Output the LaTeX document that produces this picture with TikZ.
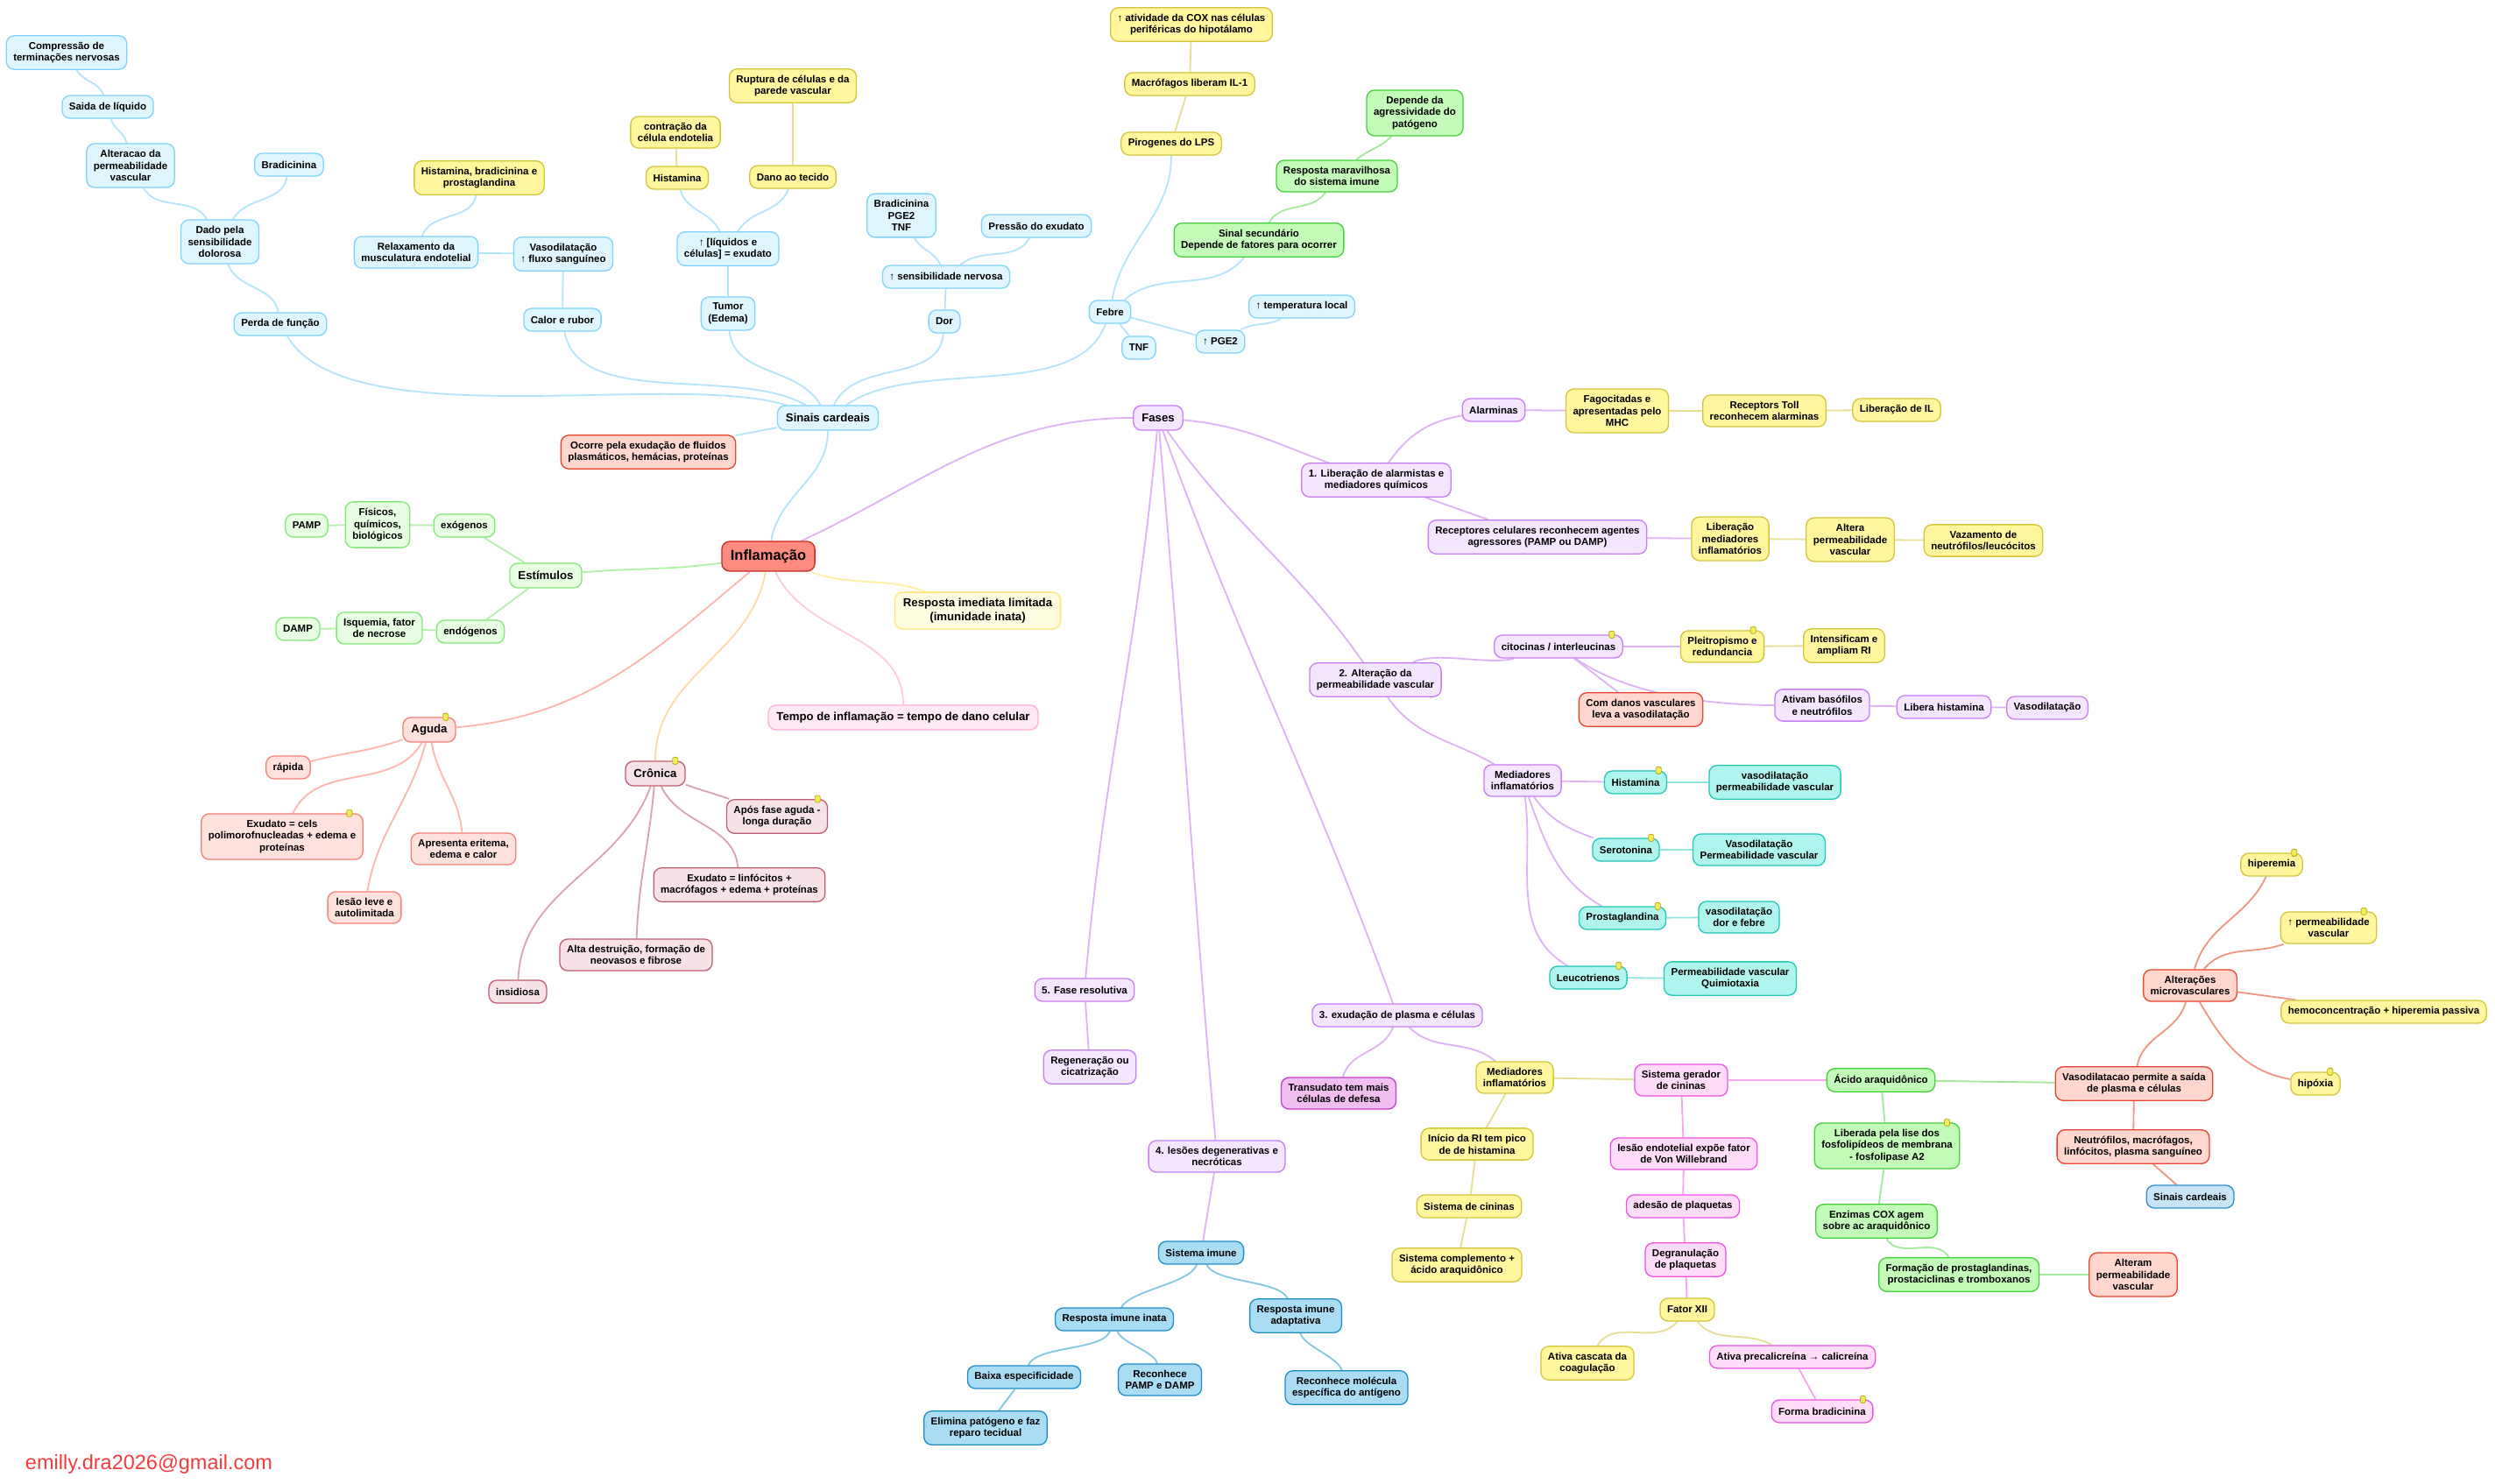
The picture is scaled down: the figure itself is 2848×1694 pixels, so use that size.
\documentclass[tikz,border=0pt]{standalone}
\usepackage{fontspec}
\setmainfont{Liberation Sans}
\usepackage{tikz}
\usetikzlibrary{backgrounds}

\definecolor{azF}{HTML}{E0F6FF}\definecolor{azB}{HTML}{7ED3FA}\definecolor{azL}{HTML}{B3E5FA}
\definecolor{amF}{HTML}{FFF69D}\definecolor{amB}{HTML}{D3C43A}\definecolor{amL}{HTML}{E6DE94}
\definecolor{vdF}{HTML}{E8FFE3}\definecolor{vdB}{HTML}{7EEA73}\definecolor{vdL}{HTML}{B1F2A9}
\definecolor{vbF}{HTML}{C3FCB8}\definecolor{vbB}{HTML}{43D13A}\definecolor{vbL}{HTML}{A2E99A}
\definecolor{vmF}{HTML}{FFD7CF}\definecolor{vmB}{HTML}{E8432B}\definecolor{vmL}{HTML}{F29480}
\definecolor{agF}{HTML}{FFE1DE}\definecolor{agB}{HTML}{F67E76}\definecolor{agL}{HTML}{FFB5AD}
\definecolor{crF}{HTML}{F7E3E7}\definecolor{crB}{HTML}{C35C72}\definecolor{crL}{HTML}{D9A2AF}
\definecolor{rsF}{HTML}{FFFDE0}\definecolor{rsB}{HTML}{FFE370}\definecolor{rsL}{HTML}{FFEFA0}
\definecolor{tpF}{HTML}{FFE9F4}\definecolor{tpB}{HTML}{FFADD6}\definecolor{tpL}{HTML}{FFC9E3}
\definecolor{roF}{HTML}{F5E6FF}\definecolor{roB}{HTML}{C77CF6}\definecolor{roL}{HTML}{DDB2F7}
\definecolor{ciF}{HTML}{AFF5EE}\definecolor{ciB}{HTML}{23C6B8}\definecolor{ciL}{HTML}{8FE6DE}
\definecolor{mgF}{HTML}{FFDDF9}\definecolor{mgB}{HTML}{EE52E6}\definecolor{mgL}{HTML}{F4A6EE}
\definecolor{trF}{HTML}{F0BFF0}\definecolor{trB}{HTML}{BE3FC6}
\definecolor{imF}{HTML}{AADCF4}\definecolor{imB}{HTML}{1E8DC6}\definecolor{imL}{HTML}{7FC7E2}
\definecolor{scF}{HTML}{C9E4F7}\definecolor{scB}{HTML}{2B8FCF}
\definecolor{rzF}{HTML}{FF8A80}\definecolor{rzB}{HTML}{C62A22}
\definecolor{crnL}{HTML}{FFD9A6}
\definecolor{notaF}{HTML}{F2EE5A}\definecolor{notaB}{HTML}{BBAA22}
\definecolor{mailc}{HTML}{F23C3C}

\begin{document}
\begin{tikzpicture}[x=1pt, y=1pt,
  base/.style={draw, rounded corners=9pt, line width=1.3pt, align=center, inner xsep=8pt, inner ysep=7pt, minimum height=26pt, font=\bfseries\fontsize{11.5}{13.7}\selectfont},
  lvl/.style={inner xsep=9.5pt, minimum height=28pt, font=\bfseries\fontsize{13.2}{15.5}\selectfont},
  raiz/.style={base, fill=rzF, draw=rzB, inner xsep=10pt, minimum height=34pt, font=\bfseries\fontsize{16.5}{19}\selectfont},
  azul/.style={base, fill=azF, draw=azB},
  amar/.style={base, fill=amF, draw=amB},
  verde/.style={base, fill=vdF, draw=vdB},
  verdeb/.style={base, fill=vbF, draw=vbB},
  verm/.style={base, fill=vmF, draw=vmB},
  agu/.style={base, fill=agF, draw=agB},
  cro/.style={base, fill=crF, draw=crB},
  rsp/.style={base, fill=rsF, draw=rsB},
  tmp/.style={base, fill=tpF, draw=tpB},
  rox/.style={base, fill=roF, draw=roB},
  cia/.style={base, fill=ciF, draw=ciB},
  mag/.style={base, fill=mgF, draw=mgB},
  tra/.style={base, fill=trF, draw=trB},
  imu/.style={base, fill=imF, draw=imB},
  sci/.style={base, fill=scF, draw=scB},
  nota/.style={draw=notaB, fill=notaF, line width=0.8pt, rounded corners=1.5pt, minimum width=6pt, minimum height=8pt, inner sep=0pt},
  ln/.style={line width=1.8pt},
  eaz/.style={ln, draw=azL}, eam/.style={ln, draw=amL}, evd/.style={ln, draw=vdL},
  evb/.style={ln, draw=vbL}, evm/.style={ln, draw=vmL}, eag/.style={ln, draw=agL},
  ecr/.style={ln, draw=crL}, ero/.style={ln, draw=roL}, eci/.style={ln, draw=ciL},
  emg/.style={ln, draw=mgL}, eim/.style={ln, draw=imL}]

\useasboundingbox (0,0) rectangle (2848,-1694);

\node[raiz] (infl) at (877,-635) {Inflamação};

\node[azul, lvl] (sc) at (945,-477) {Sinais cardeais};
\node[azul] (comp) at (76,-60) {Compressão de\\terminações nervosas};
\node[azul] (saida) at (123,-122) {Saida de líquido};
\node[azul] (altp) at (149,-189) {Alteracao da\\permeabilidade\\vascular};
\node[azul] (brad) at (330,-188) {Bradicinina};
\node[azul] (dado) at (251,-276) {Dado pela\\sensibilidade\\dolorosa};
\node[azul] (perda) at (320,-370) {Perda de função};
\node[amar] (hbp) at (547,-203) {Histamina, bradicinina e\\prostaglandina};
\node[azul] (relax) at (475,-288) {Relaxamento da\\musculatura endotelial};
\node[azul] (vaso) at (643,-290) {Vasodilatação\\↑ fluxo sanguíneo};
\node[azul] (calor) at (642,-365) {Calor e rubor};
\node[amar] (contr) at (771,-151) {contração da\\célula endotelia};
\node[amar] (hist1) at (773,-203) {Histamina};
\node[amar] (rupt) at (905,-98) {Ruptura de células e da\\parede vascular};
\node[amar] (dano) at (905,-202) {Dano ao tecido};
\node[azul] (liq) at (831,-284) {↑ [líquidos e\\células] = exudato};
\node[azul] (tumor) at (831,-358) {Tumor\\(Edema)};
\node[azul] (bpt) at (1029,-246) {Bradicinina\\PGE2\\TNF};
\node[azul] (press) at (1183,-258) {Pressão do exudato};
\node[azul] (sens) at (1080,-316) {↑ sensibilidade nervosa};
\node[azul] (dor) at (1078,-367) {Dor};
\node[azul] (febre) at (1267,-356) {Febre};
\node[azul] (temp) at (1486,-350) {↑ temperatura local};
\node[azul] (tnf) at (1300,-397) {TNF};
\node[azul] (pge) at (1393,-390) {↑ PGE2};
\node[amar] (piro) at (1337,-164) {Pirogenes do LPS};
\node[amar] (macro) at (1358,-96) {Macrófagos liberam IL-1};
\node[amar] (cox) at (1360,-28) {↑ atividade da COX nas células\\periféricas do hipotálamo};
\node[verdeb] (sinal) at (1437,-274) {Sinal secundário\\Depende de fatores para ocorrer};
\node[verdeb] (marav) at (1526,-201) {Resposta maravilhosa\\do sistema imune};
\node[verdeb] (agress) at (1615,-129) {Depende da\\agressividade do\\patógeno};
\node[verm] (ocorre) at (740,-516) {Ocorre pela exudação de fluidos\\plasmáticos, hemácias, proteínas};

\node[verde, lvl] (estim) at (623,-657) {Estímulos};
\node[verde] (exo) at (530,-600) {exógenos};
\node[verde] (fis) at (431,-599) {Físicos,\\químicos,\\biológicos};
\node[verde] (pamp) at (350,-600) {PAMP};
\node[verde] (endo) at (537,-721) {endógenos};
\node[verde] (isq) at (433,-717) {Isquemia, fator\\de necrose};
\node[verde] (damp) at (340,-718) {DAMP};

\node[rsp, lvl] (resp) at (1116,-697) {Resposta imediata limitada\\(imunidade inata)};
\node[tmp, lvl] (tempo) at (1031,-819) {Tempo de inflamação = tempo de dano celular};

\node[agu, lvl] (aguda) at (490,-833) {Aguda};
\node[agu] (rapida) at (329,-876) {rápida};
\node[agu] (exa) at (322,-955) {Exudato = cels\\polimorofnucleadas + edema e\\proteínas};
\node[agu] (apres) at (529,-969) {Apresenta eritema,\\edema e calor};
\node[agu] (lesao) at (416,-1036) {lesão leve e\\autolimitada};

\node[cro, lvl] (cron) at (748,-883) {Crônica};
\node[cro] (apos) at (887,-932) {Após fase aguda -\\longa duração};
\node[cro] (exc) at (844,-1010) {Exudato = linfócitos +\\macrófagos + edema + proteínas};
\node[cro] (alta) at (726,-1090) {Alta destruição, formação de\\neovasos e fibrose};
\node[cro] (insid) at (591,-1132) {insidiosa};

\node[rox, lvl] (fases) at (1322,-477) {Fases};
\node[rox] (f1) at (1571,-548) {1. Liberação de alarmistas e\\mediadores químicos};
\node[rox] (alarm) at (1705,-468) {Alarminas};
\node[amar] (fago) at (1846,-469) {Fagocitadas e\\apresentadas pelo\\MHC};
\node[amar] (toll) at (2014,-469) {Receptors Toll\\reconhecem alarminas};
\node[amar] (libil) at (2165,-468) {Liberação de IL};
\node[rox] (recep) at (1755,-613) {Receptores celulares reconhecem agentes\\agressores (PAMP ou DAMP)};
\node[amar] (libmed) at (1975,-615) {Liberação\\mediadores\\inflamatórios};
\node[amar] (altera) at (2112,-616) {Altera\\permeabilidade\\vascular};
\node[amar] (vaz) at (2264,-617) {Vazamento de\\neutrófilos/leucócitos};

\node[rox] (f2) at (1570,-776) {2. Alteração da\\permeabilidade vascular};
\node[rox] (cito) at (1779,-738) {citocinas / interleucinas};
\node[amar] (pleit) at (1966,-738) {Pleitropismo e\\redundancia};
\node[amar] (intens) at (2105,-737) {Intensificam e\\ampliam RI};
\node[verm] (danos) at (1873,-810) {Com danos vasculares\\leva a vasodilatação};
\node[rox] (ativam) at (2080,-805) {Ativam basófilos\\e neutrófilos};
\node[rox] (libhist) at (2219,-807) {Libera histamina};
\node[rox] (vasod) at (2337,-808) {Vasodilatação};
\node[rox] (med1) at (1738,-891) {Mediadores\\inflamatórios};
\node[cia] (histc) at (1867,-893) {Histamina};
\node[cia] (vp1) at (2026,-893) {vasodilatação\\permeabilidade vascular};
\node[cia] (sero) at (1856,-970) {Serotonina};
\node[cia] (vp2) at (2008,-970) {Vasodilatação\\Permeabilidade vascular};
\node[cia] (prost) at (1852,-1048) {Prostaglandina};
\node[cia] (vdf) at (1985,-1047) {vasodilatação\\dor e febre};
\node[cia] (leuco) at (1813,-1116) {Leucotrienos};
\node[cia] (pq) at (1975,-1117) {Permeabilidade vascular\\Quimiotaxia};

\node[rox] (f5) at (1238,-1130) {5. Fase resolutiva};
\node[rox] (regen) at (1244,-1218) {Regeneração ou\\cicatrização};

\node[rox] (f3) at (1595,-1159) {3. exudação de plasma e células};
\node[tra] (transud) at (1528,-1248) {Transudato tem mais\\células de defesa};
\node[amar] (med2) at (1729,-1230) {Mediadores\\inflamatórios};
\node[amar] (inicio) at (1686,-1306) {Início da RI tem pico\\de de histamina};
\node[amar] (sisc) at (1677,-1377) {Sistema de cininas};
\node[amar] (siscomp) at (1663,-1444) {Sistema complemento +\\ácido araquidônico};
\node[mag] (sger) at (1919,-1233) {Sistema gerador\\de cininas};
\node[mag] (lesend) at (1922,-1317) {lesão endotelial expõe fator\\de Von Willebrand};
\node[mag] (ades) at (1921,-1377) {adesão de plaquetas};
\node[mag] (degr) at (1924,-1438) {Degranulação\\de plaquetas};
\node[amar] (fxii) at (1926,-1495) {Fator XII};
\node[amar] (cascata) at (1812,-1556) {Ativa cascata da\\coagulação};
\node[mag] (precal) at (2046,-1549) {Ativa precalicreína → calicreína};
\node[mag] (fbrad) at (2080,-1611) {Forma bradicinina};
\node[verdeb] (acido) at (2147,-1233) {Ácido araquidônico};
\node[verdeb] (liber) at (2154,-1308) {Liberada pela lise dos\\fosfolipídeos de membrana\\- fosfolipase A2};
\node[verdeb] (enz) at (2142,-1394) {Enzimas COX agem\\sobre ac araquidônico};
\node[verdeb] (form) at (2236,-1455) {Formação de prostaglandinas,\\prostaciclinas e tromboxanos};
\node[verm] (alteram) at (2435,-1455) {Alteram\\permeabilidade\\vascular};
\node[verm] (vperm) at (2436,-1237) {Vasodilatacao permite a saída\\de plasma e células};
\node[verm] (neutro) at (2435,-1309) {Neutrófilos, macrófagos,\\linfócitos, plasma sanguíneo};
\node[sci] (sc2) at (2500,-1366) {Sinais cardeais};
\node[verm] (altmic) at (2500,-1125) {Alterações\\microvasculares};
\node[amar] (hiper) at (2593,-987) {hiperemia};
\node[amar] (aperm) at (2658,-1059) {↑ permeabilidade\\vascular};
\node[amar] (hemo) at (2721,-1155) {hemoconcentração + hiperemia passiva};
\node[amar] (hipox) at (2643,-1237) {hipóxia};

\node[rox] (f4) at (1389,-1320) {4. lesões degenerativas e\\necróticas};
\node[imu] (simune) at (1371,-1430) {Sistema imune};
\node[imu] (inata) at (1272,-1506) {Resposta imune inata};
\node[imu] (adapt) at (1479,-1502) {Resposta imune\\adaptativa};
\node[imu] (baixa) at (1169,-1572) {Baixa especificidade};
\node[imu] (rpamp) at (1324,-1575) {Reconhece\\PAMP e DAMP};
\node[imu] (rmol) at (1537,-1584) {Reconhece molécula\\específica do antígeno};
\node[imu] (elim) at (1125,-1630) {Elimina patógeno e faz\\reparo tecidual};

\node[text=mailc, inner sep=0pt, font=\fontsize{23.5}{27}\selectfont] (email) at (170,-1671) {emilly.dra2026@gmail.com};

\node[nota] (citon) at ([xshift=-13pt]cito.north east) {};
\node[nota] (pleitn) at ([xshift=-13pt]pleit.north east) {};
\node[nota] (histcn) at ([xshift=-10pt]histc.north east) {};
\node[nota] (seron) at ([xshift=-10pt]sero.north east) {};
\node[nota] (prostn) at ([xshift=-10pt]prost.north east) {};
\node[nota] (leucon) at ([xshift=-10pt]leuco.north east) {};
\node[nota] (agudan) at ([xshift=-12pt]aguda.north east) {};
\node[nota] (exan) at ([xshift=-16pt]exa.north east) {};
\node[nota] (cronn) at ([xshift=-12pt]cron.north east) {};
\node[nota] (aposn) at ([xshift=-12pt]apos.north east) {};
\node[nota] (hipern) at ([xshift=-10pt]hiper.north east) {};
\node[nota] (apermn) at ([xshift=-15pt]aperm.north east) {};
\node[nota] (hipoxn) at ([xshift=-12pt]hipox.north east) {};
\node[nota] (libern) at ([xshift=-15pt]liber.north east) {};
\node[nota] (fbradn) at ([xshift=-12pt]fbrad.north east) {};

\begin{scope}[on background layer]
\fill[white] (0,0) rectangle (2848,-1694);

\path[eaz] (infl) edge[out=80, in=-90] (sc);
\path[ero] (infl) edge[out=25, in=180] (fases);
\path[evd] (infl) edge[out=188, in=5] (estim);
\path[ln, draw=rsL] (infl) edge[out=-20, in=160] (resp);
\path[ln, draw=tpL] (infl) edge[out=-65, in=90] (tempo);
\path[ln, draw=crnL] (infl) edge[out=-100, in=90] (cron);
\path[eag] (infl) edge[out=-140, in=5] (aguda);

\path[eaz] (sc) edge[out=163, in=-60, looseness=0.6] (perda) edge[out=150, in=-80, looseness=0.8] (calor)
  edge[out=120, in=-85] (tumor) edge[out=65, in=-95] (dor)
  edge[out=35, in=-110, looseness=0.8] (febre) edge (ocorre);
\path[eaz] (perda) edge[out=100, in=-70] (dado);
\path[eaz] (dado) edge[out=120, in=-60] (altp) edge[out=60, in=-100] (brad);
\path[eaz] (altp) edge[out=100, in=-75] (saida);
\path[eaz] (saida) edge[out=110, in=-60] (comp);
\path[eaz] (calor) edge (vaso);
\path[eaz] (vaso) edge (relax);
\path[eaz] (relax) edge[out=70, in=-100] (hbp);
\path[eaz] (tumor) edge (liq);
\path[eaz] (liq) edge[out=115, in=-75] (hist1) edge[out=60, in=-110] (dano);
\path[eam] (hist1) edge (contr);
\path[eam] (dano) edge (rupt);
\path[eaz] (dor) edge (sens);
\path[eaz] (sens) edge[out=115, in=-60] (bpt) edge[out=40, in=-120] (press);
\path[eaz] (febre) edge[out=80, in=-90] (piro) edge[out=40, in=-130] (sinal)
  edge (tnf) edge (pge);
\path[eaz] (pge) edge[out=30, in=-150] (temp);
\path[eam] (piro) edge (macro);
\path[eam] (macro) edge (cox);
\path[evb] (sinal) edge[out=60, in=-125] (marav);
\path[evb] (marav) edge[out=40, in=-135] (agress);

\path[evd] (estim) edge (exo) edge (endo);
\path[evd] (exo) edge (fis);
\path[evd] (fis) edge (pamp);
\path[evd] (endo) edge (isq);
\path[evd] (isq) edge (damp);

\path[eag] (aguda) edge[out=200, in=15] (rapida) edge[out=-120, in=65] (exa)
  edge[out=-105, in=80] (lesao) edge[out=-80, in=95] (apres);
\path[ecr] (cron) edge[out=-20, in=160] (apos) edge[out=-65, in=95] (exc)
  edge[out=-95, in=88] (alta) edge[out=-110, in=88] (insid);

\path[ero] (fases) edge[out=-5, in=160] (f1) edge[out=-55, in=125] (f2)
  edge[out=-70, in=110] (f3) edge[out=-85, in=95] (f4) edge[out=-95, in=85] (f5);
\path[ero] (f1) edge[out=55, in=190] (alarm) edge (recep);
\path[ero] (alarm) edge (fago);
\path[eam] (fago) edge (toll);
\path[eam] (toll) edge (libil);
\path[ero] (recep) edge (libmed);
\path[eam] (libmed) edge (altera);
\path[eam] (altera) edge (vaz);
\path[ero] (f2) edge[out=25, in=195, looseness=0.7] (cito) edge[out=-55, in=150] (med1);
\path[ero] (cito) edge (pleit) edge (danos) edge[out=-35, in=180, looseness=0.8] (ativam);
\path[eam] (pleit) edge (intens);
\path[ero] (ativam) edge (libhist);
\path[ero] (libhist) edge (vasod);
\path[ero] (med1) edge (histc) edge[out=-55, in=160] (sero)
  edge[out=-70, in=150] (prost) edge[out=-82, in=150] (leuco);
\path[eci] (histc) edge (vp1);
\path[eci] (sero) edge (vp2);
\path[eci] (prost) edge (vdf);
\path[eci] (leuco) edge (pq);
\path[ero] (f5) edge (regen);
\path[ero] (f3) edge[out=-110, in=75] (transud) edge[out=-45, in=140] (med2);
\path[eam] (med2) edge (sger) edge (inicio);
\path[eam] (inicio) edge (sisc);
\path[eam] (sisc) edge (siscomp);
\path[emg] (sger) edge (acido) edge (lesend);
\path[emg] (lesend) edge (ades);
\path[emg] (ades) edge (degr);
\path[emg] (degr) edge (fxii);
\path[eam] (fxii) edge[out=-130, in=60] (cascata) edge[out=-50, in=150] (precal);
\path[emg] (precal) edge (fbrad);
\path[evb] (acido) edge (vperm) edge (liber);
\path[evb] (liber) edge (enz);
\path[evb] (enz) edge[out=-60, in=120] (form);
\path[evb] (form) edge (alteram);
\path[evm] (vperm) edge[out=80, in=-105] (altmic) edge (neutro);
\path[evm] (neutro) edge (sc2);
\path[evm] (altmic) edge[out=75, in=-115] (hiper) edge[out=50, in=200] (aperm)
  edge (hemo) edge[out=-60, in=170] (hipox);
\path[ero] (f4) edge (simune);
\path[eim] (simune) edge[out=-110, in=60, looseness=0.6] (inata) edge[out=-65, in=115, looseness=0.6] (adapt);
\path[eim] (inata) edge[out=-110, in=70, looseness=0.6] (baixa) edge[out=-75, in=100, looseness=0.6] (rpamp);
\path[eim] (baixa) edge (elim);
\path[eim] (adapt) edge[out=-75, in=105, looseness=0.6] (rmol);
\end{scope}

\end{tikzpicture}
\end{document}
